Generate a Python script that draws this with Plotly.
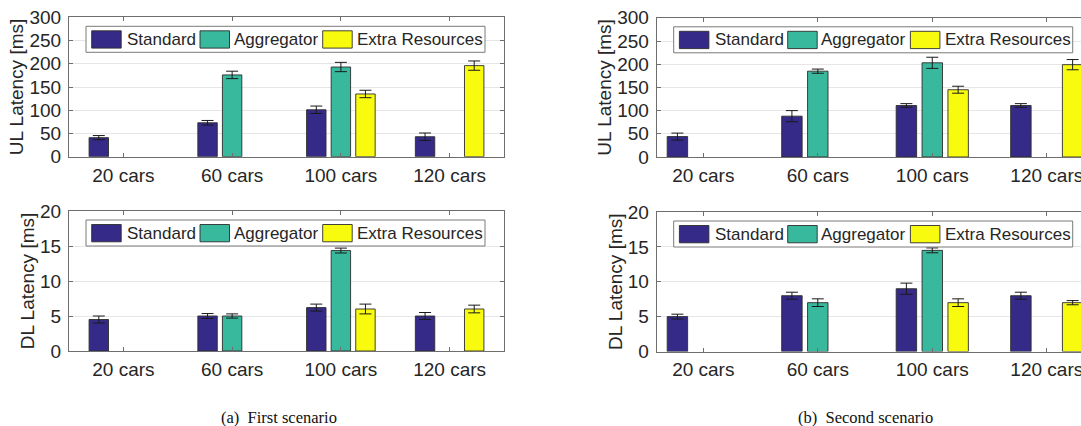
import plotly.graph_objects as go

# ---------------- data ----------------
categories = ["20 cars", "60 cars", "100 cars", "120 cars"]
series_names = ["Standard", "Aggregator", "Extra Resources"]
series_colors = ["#352a87", "#38b99e", "#f9fb0e"]

# First scenario
ul1_standard = [41, 73, 101, 43]
ul1_standard_err = [4.5, 5, 8, 8]
ul1_aggregator = [None, 176, 193, None]
ul1_aggregator_err = [None, 8, 10, None]
ul1_extra = [None, None, 135, 196]
ul1_extra_err = [None, None, 8, 10]

dl1_standard = [4.5, 5.0, 6.2, 5.0]
dl1_standard_err = [0.5, 0.35, 0.5, 0.5]
dl1_aggregator = [None, 5.0, 14.35, None]
dl1_aggregator_err = [None, 0.3, 0.35, None]
dl1_extra = [None, None, 6.0, 6.0]
dl1_extra_err = [None, None, 0.7, 0.55]

# Second scenario
ul2_standard = [44, 88, 111, 111]
ul2_standard_err = [7.5, 12, 4, 4]
ul2_aggregator = [None, 185, 203, None]
ul2_aggregator_err = [None, 4.5, 12, None]
ul2_extra = [None, None, 145, 199]
ul2_extra_err = [None, None, 7.5, 11]

dl2_standard = [5.0, 8.0, 9.0, 8.0]
dl2_standard_err = [0.35, 0.5, 0.8, 0.5]
dl2_aggregator = [None, 7.0, 14.5, None]
dl2_aggregator_err = [None, 0.55, 0.35, None]
dl2_extra = [None, None, 7.0, 7.0]
dl2_extra_err = [None, None, 0.55, 0.3]

ul_ticks = [0, 50, 100, 150, 200, 250, 300]
dl_ticks = [0, 5, 10, 15, 20]
captions = ["(a)  First scenario", "(b)  Second scenario"]

# ---------------- layout helpers ----------------
W, H = 1081, 426
FONT = "Liberation Sans, Arial, Helvetica, sans-serif"
SERIF = "Liberation Serif, Times New Roman, serif"
TXT = "#262626"
AXC = "#6e6e6e"


def px(x):
    return x / W


def py(y):
    return 1 - y / H


panels = [
    dict(x=(69, 504), y=(17.3, 156.7), xr=[0.5, 4.5], yr=[0, 300], yt=ul_ticks,
         title="UL Latency [ms]", mirror=True,
         data=[(ul1_standard, ul1_standard_err), (ul1_aggregator, ul1_aggregator_err), (ul1_extra, ul1_extra_err)]),
    dict(x=(69, 504), y=(211, 351), xr=[0.5, 4.5], yr=[0, 20], yt=dl_ticks,
         title="DL Latency [ms]", mirror=True,
         data=[(dl1_standard, dl1_standard_err), (dl1_aggregator, dl1_aggregator_err), (dl1_extra, dl1_extra_err)]),
    dict(x=(656.7, 1081), y=(17.8, 157), xr=[0.593, 4.299], yr=[0, 300], yt=ul_ticks,
         title="UL Latency [ms]", mirror=False,
         data=[(ul2_standard, ul2_standard_err), (ul2_aggregator, ul2_aggregator_err), (ul2_extra, ul2_extra_err)]),
    dict(x=(656.7, 1081), y=(212, 351.5), xr=[0.593, 4.299], yr=[0, 20], yt=dl_ticks,
         title="DL Latency [ms]", mirror=False,
         data=[(dl2_standard, dl2_standard_err), (dl2_aggregator, dl2_aggregator_err), (dl2_extra, dl2_extra_err)]),
]

xvals = [1, 2, 3, 4]
fig = go.Figure()
layout = {}
shapes = []
annotations = []

for i, p in enumerate(panels):
    k = "" if i == 0 else str(i + 1)
    xa, ya = "x" + k, "y" + k
    for s, (vals, errs) in enumerate(p["data"]):
        fig.add_trace(go.Bar(
            x=xvals, y=vals, name=series_names[s], showlegend=False,
            xaxis=xa, yaxis=ya,
            marker=dict(color=series_colors[s], line=dict(color="rgba(45,45,45,0.9)", width=1)),
            error_y=dict(type="data", array=errs, visible=True, color="#1a1a1a",
                         thickness=1, width=6),
        ))
    layout["xaxis" + k] = dict(
        domain=[px(p["x"][0]), px(p["x"][1])], range=p["xr"], anchor=ya,
        tickmode="array", tickvals=xvals, ticktext=categories,
        ticks="inside", ticklen=4, tickcolor=AXC, tickwidth=1,
        showline=True, linecolor=AXC, linewidth=1, mirror="allticks",
        showgrid=False, zeroline=False, fixedrange=True, automargin=False,
        ticklabeloverflow="allow",
        tickfont=dict(family=FONT, size=19, color=TXT), ticklabelstandoff=1,
    )
    layout["yaxis" + k] = dict(
        domain=[py(p["y"][1]), py(p["y"][0])], range=p["yr"], anchor=xa,
        tickmode="array", tickvals=p["yt"],
        ticks="inside", ticklen=4, tickcolor=AXC, tickwidth=1,
        showline=True, linecolor=AXC, linewidth=1,
        mirror="allticks" if p["mirror"] else False,
        showgrid=True, gridcolor="#e6e6e6", gridwidth=1, zeroline=False,
        automargin=False, fixedrange=True, ticklabeloverflow="allow",
        tickfont=dict(family=FONT, size=19, color=TXT), ticklabelstandoff=3,
        title=dict(text=p["title"], font=dict(family=FONT, size=19, color=TXT), standoff=0),
    )

    # manual legend box (MATLAB style)
    bx0 = p["x"][0] + 17
    by0 = p["y"][0] + 9
    bw, bh = 399, 26
    shapes.append(dict(type="rect", xref="paper", yref="paper",
                       x0=px(bx0), x1=px(bx0 + bw), y0=py(by0 + bh), y1=py(by0),
                       fillcolor="white", line=dict(color="#7a7a7a", width=1), layer="above"))
    items = [(5.7, 39), (114, 145.7), (236.7, 269)]
    for s, (sx, tx) in enumerate(items):
        shapes.append(dict(type="rect", xref="paper", yref="paper",
                           x0=px(bx0 + sx), x1=px(bx0 + sx + 29.5),
                           y0=py(by0 + 21.8), y1=py(by0 + 4.5),
                           fillcolor=series_colors[s], line=dict(color="rgba(45,45,45,0.9)", width=1),
                           layer="above"))
        annotations.append(dict(text=series_names[s], xref="paper", yref="paper",
                                x=px(bx0 + tx), y=py(by0 + bh / 2), xanchor="left", yanchor="middle",
                                showarrow=False, font=dict(family=FONT, size=17, color=TXT)))

annotations.append(dict(text=captions[0], xref="paper", yref="paper", x=px(279), y=py(417),
                        xanchor="center", yanchor="middle", showarrow=False,
                        font=dict(family=SERIF, size=16.5, color="#111")))
annotations.append(dict(text=captions[1], xref="paper", yref="paper", x=px(865), y=py(417),
                        xanchor="center", yanchor="middle", showarrow=False,
                        font=dict(family=SERIF, size=16.5, color="#111")))

fig.update_layout(
    **layout,
    width=W, height=H,
    margin=dict(l=0, r=0, t=0, b=0, autoexpand=False),
    paper_bgcolor="white", plot_bgcolor="white",
    barmode="group", bargap=0.322, bargroupgap=0.21,
    shapes=shapes, annotations=annotations,
    showlegend=False,
)

fig.write_html(
    "out.html",
    config={"displayModeBar": False, "staticPlot": True},
    post_script="document.body.style.margin='0';document.body.style.padding='0';"
                "document.body.style.overflow='hidden';",
)
